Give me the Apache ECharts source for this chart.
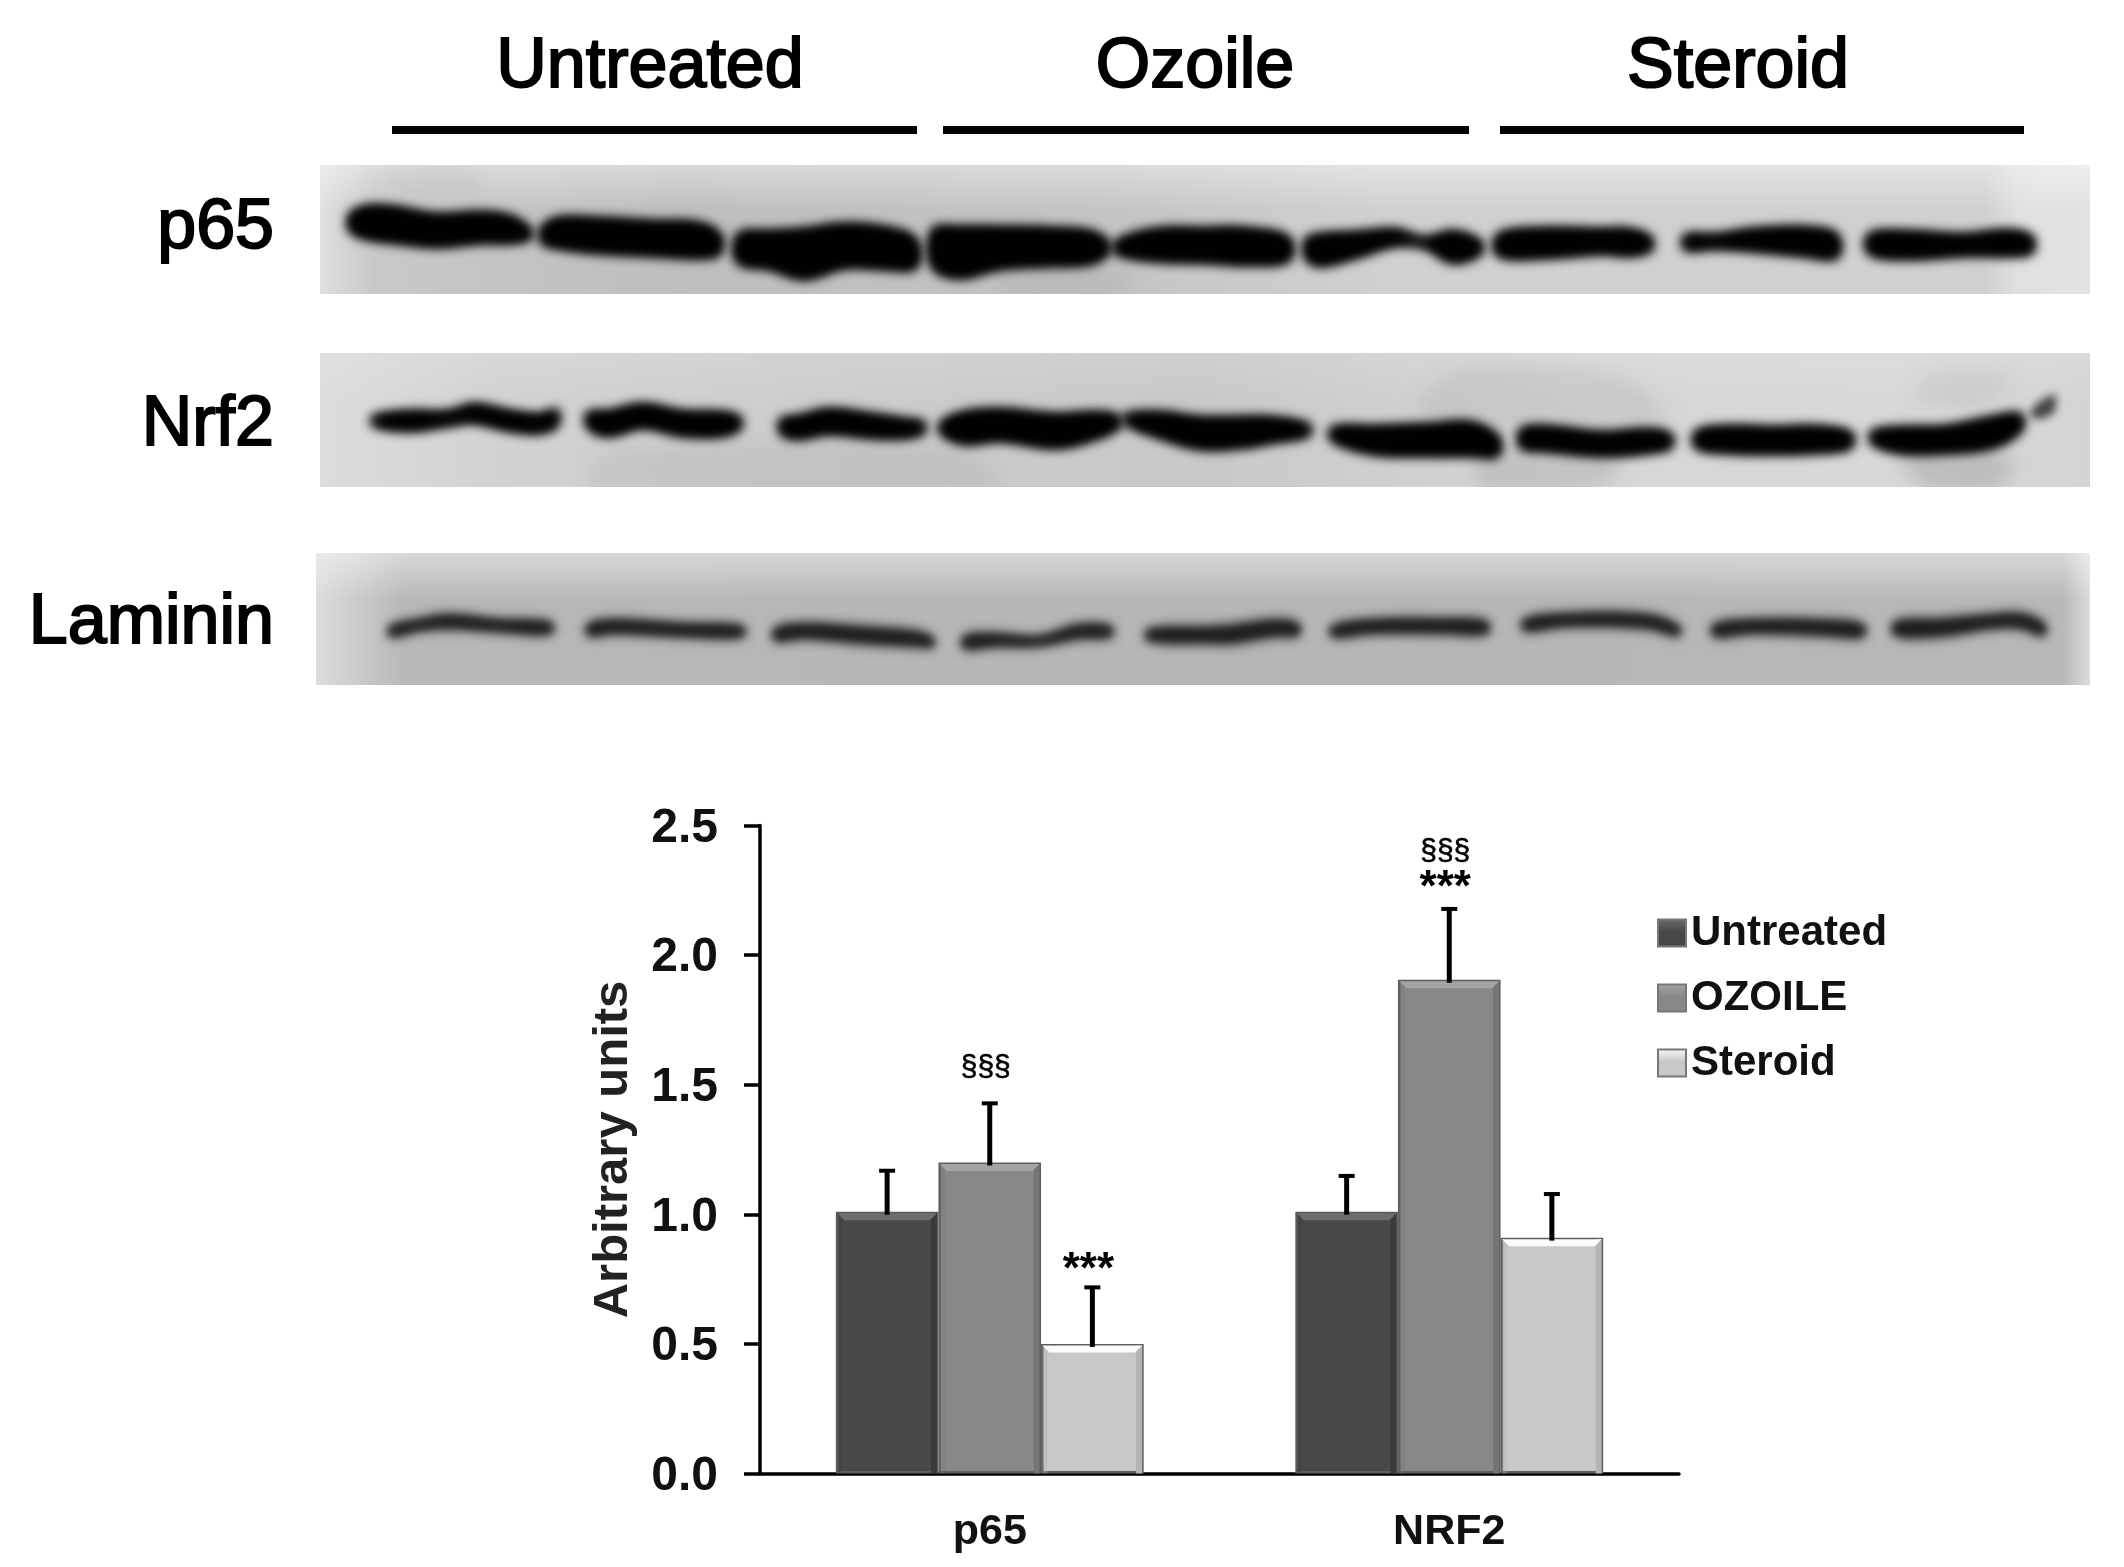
<!DOCTYPE html>
<html>
<head>
<meta charset="utf-8">
<style>html,body{margin:0;padding:0;background:#fff}#c{width:2124px;height:1567px}</style>
<script src="https://cdn.jsdelivr.net/npm/echarts@6/dist/echarts.min.js"></script>
</head>
<body>
<div id="c"></div>
<script>
// ---- bar chart data ----
const categories = ['p65', 'NRF2'];
const untreated = [1.01, 1.01];
const ozoile = [1.20, 1.905];
const steroid = [0.50, 0.91];
const untreatedTop = [1.17, 1.15];
const ozoileTop = [1.43, 2.18];
const steroidTop = [0.72, 1.08];
const seriesNames = ['Untreated', 'OZOILE', 'Steroid'];
const yTicks = [0, 2.5, 0.5];
const annotations = [
  [0, 1, '§§§', 1.567],
  [0, 2, '***', 0.815],
  [1, 1, '§§§', 2.40],
  [1, 1, '***', 2.29]
];
// ---- blot panel texts ----
const groupLabels = ['Untreated', 'Ozoile', 'Steroid'];
const groupSpans = [[392, 917, 650], [943, 1469, 1195], [1500, 2024, 1738]];
const proteinLabels = ['p65', 'Nrf2', 'Laminin'];
const proteinRows = [229, 426, 624];
// ---- blot bands: [x, upper edge, lower edge] ----
const p65Bands = [
  [[350,215,230],[367,207,238],[396,208,242],[436,215,246],[482,213,242],[511,217,242],[531,230,238]],
  [[542,228,242],[557,219,247],[597,219,252],[654,222,255],[700,224,257],[720,235,253]],
  [[738,235,262],[769,232,268],[804,230,278],[844,225,267],[884,228,268],[916,240,267]],
  [[933,230,267],[959,228,277],[999,228,268],[1056,229,265],[1091,232,263],[1108,242,253]],
  [[1116,242,253],[1154,230,260],[1210,229,262],[1246,229,264],[1289,238,260]],
  [[1306,240,258],[1320,235,265],[1355,233,257],[1395,230,245],[1424,238,247],[1453,232,262],[1481,242,253]],
  [[1498,235,255],[1544,229,257],[1602,230,253],[1630,230,255],[1651,238,250]],
  [[1685,236,249],[1717,235,248],[1751,230,250],[1803,228,255],[1837,235,257]],
  [[1869,235,253],[1906,232,258],[1963,235,255],[2009,231,255],[2032,237,252]]
];
const nrf2Bands = [
  [[373,417,425],[408,412,430],[448,412,425],[474,405,422],[511,412,430],[540,415,432],[557,410,425]],
  [[588,413,427],[608,412,435],[643,405,427],[683,412,435],[723,413,435],[740,418,428]],
  [[781,420,433],[798,417,438],[829,410,433],[873,415,437],[907,420,437],[924,423,432]],
  [[941,423,433],[964,413,443],[999,410,440],[1056,415,447],[1096,413,438],[1119,417,427]],
  [[1125,415,423],[1160,413,437],[1200,418,448],[1240,418,447],[1270,418,442],[1309,425,435]],
  [[1332,428,440],[1372,427,453],[1430,425,455],[1470,423,455],[1498,437,455]],
  [[1521,430,447],[1544,427,450],[1602,433,455],[1648,430,452],[1671,435,447]],
  [[1696,432,447],[1728,427,452],[1774,428,453],[1814,427,452],[1851,433,447]],
  [[1872,432,443],[1900,428,452],[1946,427,452],[1992,418,447],[2021,415,430]]
];
const nrf2Smudge = [[[2032,409,418],[2047,397,417],[2055,395,410]]];
const lamininBands = [
  [[390,625,638],[419,618,632],[448,613,630],[499,618,633],[551,621,635]],
  [[588,623,637],[614,618,635],[683,622,638],[743,625,638]],
  [[775,627,642],[804,622,640],[861,625,645],[918,630,648],[933,637,648]],
  [[964,635,650],[993,632,648],[1039,635,647],[1079,623,640],[1111,625,638]],
  [[1148,628,642],[1210,625,645],[1234,623,645],[1275,618,638],[1298,622,637]],
  [[1332,625,638],[1372,618,635],[1441,617,635],[1487,620,635]],
  [[1524,618,632],[1567,612,628],[1648,613,630],[1679,625,637]],
  [[1714,623,638],[1751,618,635],[1820,618,637],[1863,623,638]],
  [[1895,620,637],[1941,617,638],[1992,613,630],[2021,612,630],[2044,622,637]]
];
// panel: x0, x1, y0, y1
const panelBoxes = [[320, 2090, 165, 294], [320, 2090, 353, 487], [316, 2090, 553, 685]];
const panelHShades = [
  [[0,'#e0e0e0'],[0.03,'#c8c8c8'],[0.2,'#bebebe'],[0.45,'#c4c4c4'],[0.6,'#d0d0d0'],[0.94,'#d0d0d0'],[0.96,'#e0e0e0'],[1,'#e2e2e2']],
  [[0,'#dcdcdc'],[0.1,'#d2d2d2'],[0.3,'#cccccc'],[0.5,'#c8c8c8'],[0.7,'#d6d6d6'],[0.9,'#d8d8d8'],[1,'#d4d4d4']],
  [[0,'#dcdcdc'],[0.05,'#b8b8b8'],[0.5,'#b6b6b6'],[0.985,'#b8b8b8'],[1,'#dcdcdc']]
];
const panelTopFade = [0.4, 0.12, 0.45];
// faint stains on the membranes: [panel, darkness, outline]
const panelStains = [
  [0, 0.05, [[1000,294],[1000,272],[1130,272],[1120,294]]],
  [0, 0.04, [[400,165],[380,190],[480,195],[470,165]]],
  [1, 0.05, [[590,487],[610,450],[950,450],[1000,487]]],
  [1, 0.06, [[1420,420],[1450,372],[1560,365],[1640,385],[1665,430]]],
  [1, 0.09, [[1480,487],[1480,455],[1620,455],[1600,487]]],
  [1, 0.12, [[1925,487],[1900,455],[2010,455],[2000,487]]],
  [1, 0.05, [[1918,403],[1925,375],[2010,375],[1990,403]]]
];

const barGapShare = 0.33;
const barColors = ['#484848', '#888888', '#c8c8c8'];
const bevelColors = ['#6c6c6c', '#a4a4a4', '#fbfbfb'];
const sideColors = ['#3a3a3a', '#757575', '#b4b4b4'];
const font = '"Liberation Sans", Arial, sans-serif';

const barTops = [untreatedTop, ozoileTop, steroidTop];
const barVals = [untreated, ozoile, steroid];
const bevelRows = [];
barVals.forEach((vals, g) => vals.forEach((v, c) => bevelRows.push([c, v, barTops[g][c], g])));

const OFF = 3000; // the outline sits off the page; only its blurred shadow lands on it
function bandShape(api, band, k) {
  const top = [], bot = [];
  band.forEach(p => {
    const mid = (p[1] + p[2]) / 2, half = (p[2] - p[1]) / 2 * k;
    const a = api.coord([p[0], mid - half]), b = api.coord([p[0], mid + half]);
    top.push([a[0] - OFF, a[1]]);
    bot.unshift([b[0] - OFF, b[1]]);
  });
  return { points: top.concat(bot), smooth: 0.35 };
}
function soft(shape, color, blur) {
  return { type: 'polygon', shape: shape, style: { fill: '#000', shadowColor: color, shadowBlur: blur, shadowOffsetX: OFF } };
}
function softBands(list, layers) {
  return {
    type: 'custom', xAxisIndex: 1, yAxisIndex: 1, silent: true, z: 3, clip: false,
    data: list.map((b, i) => [i]),
    renderItem: (params, api) => ({
      type: 'group',
      children: layers.map(l => soft(bandShape(api, list[api.value(0)], l.k), l.color, l.blur))
    })
  };
}
const option = {
  animation: false,
  backgroundColor: '#ffffff',
  textStyle: { fontFamily: font },
  legend: {
    orient: 'vertical', left: 1657, top: 912, padding: 0, itemWidth: 28, itemHeight: 27, itemGap: 23,
    selectedMode: false, icon: 'rect',
    textStyle: { fontFamily: font, fontSize: 42, fontWeight: 'bold', color: '#111', padding: [0, 0, 5, 0] },
    data: seriesNames.map((n, g) => ({
      name: n,
      itemStyle: {
        borderColor: '#777', borderWidth: 2,
        color: { type: 'linear', x: 0, y: 0, x2: 0, y2: 1, colorStops: [
          { offset: 0, color: bevelColors[g] }, { offset: 0.45, color: barColors[g] }, { offset: 1, color: barColors[g] }
        ] }
      }
    }))
  },
  grid: [
    { left: 760, top: 825.5, width: 919, height: 648 },
    { left: 0, top: 0, width: 2124, height: 1567 }
  ],
  xAxis: [
    {
      type: 'category', gridIndex: 0, data: categories,
      axisLine: { lineStyle: { color: '#000', width: 3.5 } }, axisTick: { show: false },
      axisLabel: { fontFamily: font, fontSize: 43, fontWeight: 'bold', color: '#111', margin: 37 }
    },
    { type: 'value', gridIndex: 1, min: 0, max: 2124, show: false }
  ],
  yAxis: [
    {
      type: 'value', gridIndex: 0, min: yTicks[0], max: yTicks[1], interval: yTicks[2],
      splitLine: { show: false },
      axisLine: { show: true, lineStyle: { color: '#000', width: 3.5 } },
      axisTick: { show: true, length: 16, lineStyle: { color: '#000', width: 3.5 } },
      axisLabel: { fontFamily: font, fontSize: 48, fontWeight: 'bold', color: '#111', margin: 42, verticalAlign: 'top', lineHeight: 6, formatter: v => v.toFixed(1) },
      name: 'Arbitrary units', nameLocation: 'middle', nameGap: 122, nameRotate: 90,
      nameTextStyle: { fontFamily: font, fontSize: 49, fontWeight: 'bold', color: '#222' }
    },
    { type: 'value', gridIndex: 1, min: 0, max: 1567, inverse: true, show: false }
  ],
  series: [
    // blot panels
    {
      type: 'custom', xAxisIndex: 1, yAxisIndex: 1, silent: true, z: 1, clip: false,
      data: panelBoxes.map((b, i) => [i]),
      renderItem: (params, api) => {
        const i = api.value(0), b = panelBoxes[i];
        const a = api.coord([b[0], b[2]]), z = api.coord([b[1], b[3]]);
        const shape = { x: a[0], y: a[1], width: z[0] - a[0], height: z[1] - a[1] };
        return { type: 'group', children: [
          { type: 'rect', shape, style: { fill: { type: 'linear', x: 0, y: 0, x2: 1, y2: 0,
            colorStops: panelHShades[i].map(s => ({ offset: s[0], color: s[1] })) } } },
          { type: 'rect', shape, style: { fill: { type: 'linear', x: 0, y: 0, x2: 0, y2: 1, colorStops: [
            { offset: 0, color: 'rgba(255,255,255,' + panelTopFade[i] + ')' },
            { offset: 0.35, color: 'rgba(255,255,255,0)' },
            { offset: 1, color: 'rgba(255,255,255,0)' }
          ] } } }
        ] };
      }
    },
    // stains, clipped to their panel
    {
      type: 'custom', xAxisIndex: 1, yAxisIndex: 1, silent: true, z: 2, clip: false,
      data: panelStains.map((s, i) => [i]),
      renderItem: (params, api) => {
        const s = panelStains[api.value(0)], b = panelBoxes[s[0]];
        const a = api.coord([b[0], b[2]]), z = api.coord([b[1], b[3]]);
        return {
          type: 'group',
          clipPath: { type: 'rect', shape: { x: a[0], y: a[1], width: z[0] - a[0], height: z[1] - a[1] } },
          children: [{
            type: 'polygon',
            shape: { points: s[2].map(p => { const c = api.coord(p); return [c[0] - OFF, c[1]]; }), smooth: 0.3 },
            style: { fill: '#000', shadowColor: 'rgba(0,0,0,' + s[1] + ')', shadowBlur: 18, shadowOffsetX: OFF }
          }]
        };
      }
    },
    softBands(p65Bands, [{ k: 1.02, color: '#000', blur: 12 }, { k: 1.02, color: '#000', blur: 12 }]),
    softBands(nrf2Bands, [{ k: 1.02, color: '#000', blur: 12 }, { k: 1.02, color: '#000', blur: 12 }]),
    softBands(nrf2Smudge, [{ k: 1, color: '#444', blur: 9 }]),
    softBands(lamininBands, [{ k: 1, color: '#3a3a3a', blur: 12 }, { k: 0.55, color: '#1a1a1a', blur: 8 }]),
    // treatment rules and labels above the blots
    {
      type: 'custom', xAxisIndex: 1, yAxisIndex: 1, silent: true, z: 4, clip: false,
      data: groupLabels.map((n, i) => [i]),
      renderItem: (params, api) => {
        const i = api.value(0), s = groupSpans[i];
        const a = api.coord([s[0], 126]), z = api.coord([s[1], 134]), t = api.coord([s[2], 68]);
        return { type: 'group', children: [
          { type: 'rect', shape: { x: a[0], y: a[1], width: z[0] - a[0], height: z[1] - a[1] }, style: { fill: '#000' } },
          { type: 'text', style: { x: t[0], y: t[1], text: groupLabels[i], fill: '#000', stroke: '#000', lineWidth: 2, align: 'center', verticalAlign: 'middle', font: '70px ' + font } }
        ] };
      }
    },
    {
      type: 'custom', xAxisIndex: 1, yAxisIndex: 1, silent: true, z: 4, clip: false,
      data: proteinLabels.map((n, i) => [i]),
      renderItem: (params, api) => {
        const i = api.value(0), t = api.coord([274, proteinRows[i]]);
        return { type: 'text', style: { x: t[0], y: t[1], text: proteinLabels[i], fill: '#000', stroke: '#000', lineWidth: 2, align: 'right', verticalAlign: 'middle', font: '70px ' + font } };
      }
    },
    // bars
    ...seriesNames.map((n, g) => ({
      name: n, type: 'bar', xAxisIndex: 0, yAxisIndex: 0, data: barVals[g], z: 2,
      barGap: '0%', barCategoryGap: (barGapShare * 100) + '%',
      itemStyle: { color: barColors[g], borderColor: '#5e5e5e', borderWidth: 2.5 }
    })),
    // bar bevels and error bars
    {
      type: 'custom', xAxisIndex: 0, yAxisIndex: 0, silent: true, z: 3, clip: false,
      encode: { x: 0, y: 1 },
      data: bevelRows,
      renderItem: (params, api) => {
        const c = api.value(0), v = api.value(1), e = api.value(2), g = api.value(3);
        const band = api.size([1, 0])[0], w = band * (1 - barGapShare) / 3;
        const cx = api.coord([c, 0])[0] + (g - 1) * w;
        const yv = api.coord([c, v])[1], ye = api.coord([c, e])[1], y0 = api.coord([c, 0])[1];
        const l = cx - w / 2 + 1.5, r = cx + w / 2 - 1.5, t = yv + 1.5, b = 7;
        return { type: 'group', children: [
          { type: 'rect', shape: { x: r - 6, y: t, width: 6, height: y0 - t }, style: { fill: sideColors[g] } },
          { type: 'rect', shape: { x: l, y: t, width: 5, height: y0 - t }, style: { fill: sideColors[g], opacity: 0.3 } },
          { type: 'polygon', shape: { points: [[l, t], [r, t], [r - 7, t + b], [l + 7, t + b]] }, style: { fill: bevelColors[g] } },
          { type: 'rect', shape: { x: cx - 2.5, y: ye, width: 5, height: yv - ye + 3 }, style: { fill: '#000' } },
          { type: 'rect', shape: { x: cx - 8, y: ye - 1.5, width: 16, height: 4 }, style: { fill: '#000' } }
        ] };
      }
    },
    // significance marks
    {
      type: 'custom', xAxisIndex: 0, yAxisIndex: 0, silent: true, z: 5, clip: false,
      encode: { x: 0, y: 3 },
      data: annotations.map((a, i) => [a[0], a[1], i, a[3]]),
      renderItem: (params, api) => {
        const c = api.value(0), g = api.value(1), a = annotations[api.value(2)];
        const band = api.size([1, 0])[0], w = band * (1 - barGapShare) / 3;
        const p = api.coord([c, a[3]]);
        const star = a[2] === '***';
        return { type: 'text', style: {
          x: p[0] + (g - 1) * w - 4, y: p[1] + (star ? 9 : 0), text: a[2], fill: '#000',
          stroke: star ? 'transparent' : '#000', lineWidth: 0.6,
          align: 'center', verticalAlign: 'middle',
          font: (star ? 'bold 44px ' : '30px ') + font
        } };
      }
    }
  ]
};
echarts.init(document.getElementById('c'), null, { renderer: 'canvas' }).setOption(option);
</script>
</body>
</html>
